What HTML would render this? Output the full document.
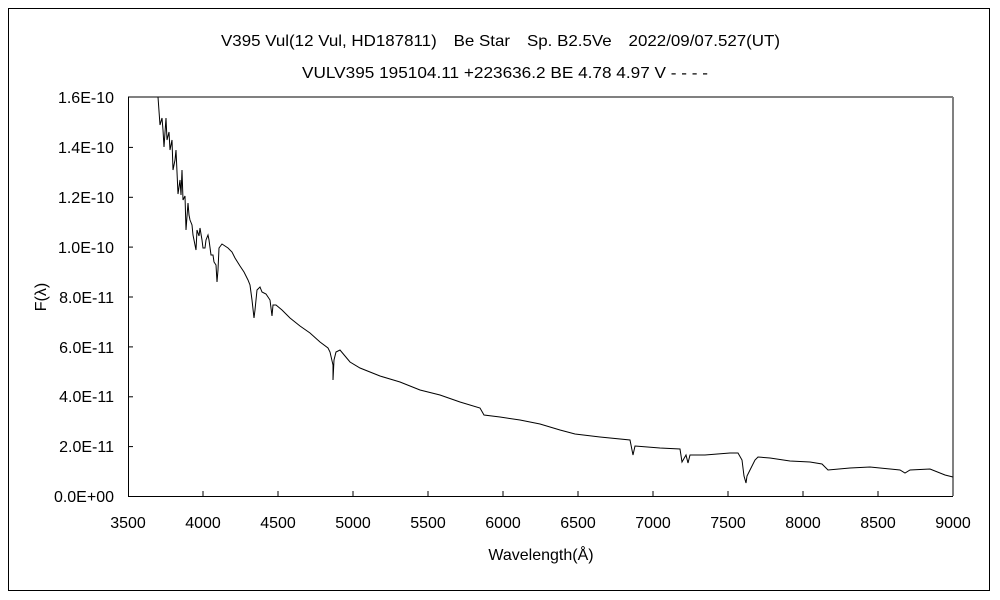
<!DOCTYPE html>
<html><head><meta charset="utf-8"><style>html,body{margin:0;padding:0;background:#fff}svg{display:block}</style></head><body>
<svg width="1000" height="600" xmlns="http://www.w3.org/2000/svg" font-family="Liberation Sans, Noto Sans CJK JP, sans-serif" font-size="16">
<rect x="8.5" y="8.5" width="981" height="582" fill="#fff" stroke="#000" stroke-width="1"/>
<text x="221" y="46" textLength="559" lengthAdjust="spacingAndGlyphs">V395 Vul(12 Vul, HD187811)　Be Star　Sp. B2.5Ve　2022/09/07.527(UT)</text>
<text x="302" y="78" textLength="406" lengthAdjust="spacingAndGlyphs">VULV395 195104.11 +223636.2 BE 4.78 4.97 V - - - -</text>
<line x1="128" y1="97" x2="953" y2="97" stroke="#808080" stroke-width="2"/>
<line x1="953" y1="97" x2="953" y2="496" stroke="#808080" stroke-width="2"/>
<line x1="128.5" y1="97" x2="128.5" y2="496" stroke="#000"/>
<line x1="128" y1="496.5" x2="953" y2="496.5" stroke="#000"/>
<g stroke="#000">
<line x1="128" y1="446.6" x2="133" y2="446.6"/><line x1="128" y1="396.8" x2="133" y2="396.8"/><line x1="128" y1="346.9" x2="133" y2="346.9"/><line x1="128" y1="297" x2="133" y2="297"/><line x1="128" y1="247.1" x2="133" y2="247.1"/><line x1="128" y1="197.3" x2="133" y2="197.3"/><line x1="128" y1="147.4" x2="133" y2="147.4"/>
<line x1="203" y1="496" x2="203" y2="491"/><line x1="278" y1="496" x2="278" y2="491"/><line x1="353" y1="496" x2="353" y2="491"/><line x1="428" y1="496" x2="428" y2="491"/><line x1="503" y1="496" x2="503" y2="491"/><line x1="578" y1="496" x2="578" y2="491"/><line x1="653" y1="496" x2="653" y2="491"/><line x1="728" y1="496" x2="728" y2="491"/><line x1="803" y1="496" x2="803" y2="491"/><line x1="878" y1="496" x2="878" y2="491"/>
</g>
<g text-anchor="end">
<text x="114" y="502">0.0E+00</text><text x="114" y="452">2.0E-11</text><text x="114" y="402">4.0E-11</text><text x="114" y="353">6.0E-11</text><text x="114" y="303">8.0E-11</text><text x="114" y="253">1.0E-10</text><text x="114" y="203">1.2E-10</text><text x="114" y="153">1.4E-10</text><text x="114" y="103">1.6E-10</text>
</g>
<g text-anchor="middle">
<text x="128" y="528">3500</text><text x="203" y="528">4000</text><text x="278" y="528">4500</text><text x="353" y="528">5000</text><text x="428" y="528">5500</text><text x="503" y="528">6000</text><text x="578" y="528">6500</text><text x="653" y="528">7000</text><text x="728" y="528">7500</text><text x="803" y="528">8000</text><text x="878" y="528">8500</text><text x="953" y="528">9000</text>
<text x="541" y="560">Wavelength(Å)</text>
<text transform="translate(46,297) rotate(-90)">F(λ)</text>
</g>
<polyline fill="none" stroke="#000" stroke-width="1" points="158,97 160,125 162,118 163,130 164,147 166,118 167,140 169,132 170,150 172,140 173,170 175,160 176,150 177,172 178,194 180,180 181,195 182,170 183,200 185,196 186,230 188,203 189,215 190,220 192,225 193,235 194,240 196,250 197,230 199,236 200,228 202,240 203,248 205,248 206,240 208,235 209,240 211,255 213,255 214,262 216,265 217,282 218,270 219,248 222,244 225,246 228,248 232,252 235,258 240,266 244,272 248,280 250,285 252,300 254,318 255,310 257,290 260,287 262,292 266,294 270,300 272,316 273,305 276,305 282,310 290,318 300,326 310,333 320,342 328,348 330,352 333,365 333,380 334,360 336,352 340,350 345,356 350,362 360,368 380,376 400,382 420,390 440,395 460,402 480,408 484,415 500,417 520,420 540,424 560,430 575,434 600,437 630,440 633,455 635,446 660,448 680,449 682,462 686,455 688,463 690,455 705,455 730,453 738,453 742,460 744,476 746,483 747,476 750,470 755,460 758,457 770,458 790,461 810,462 822,464 828,470 850,468 870,467 900,470 905,473 910,470 930,469 945,475 953,477"/>
</svg>
</body></html>
